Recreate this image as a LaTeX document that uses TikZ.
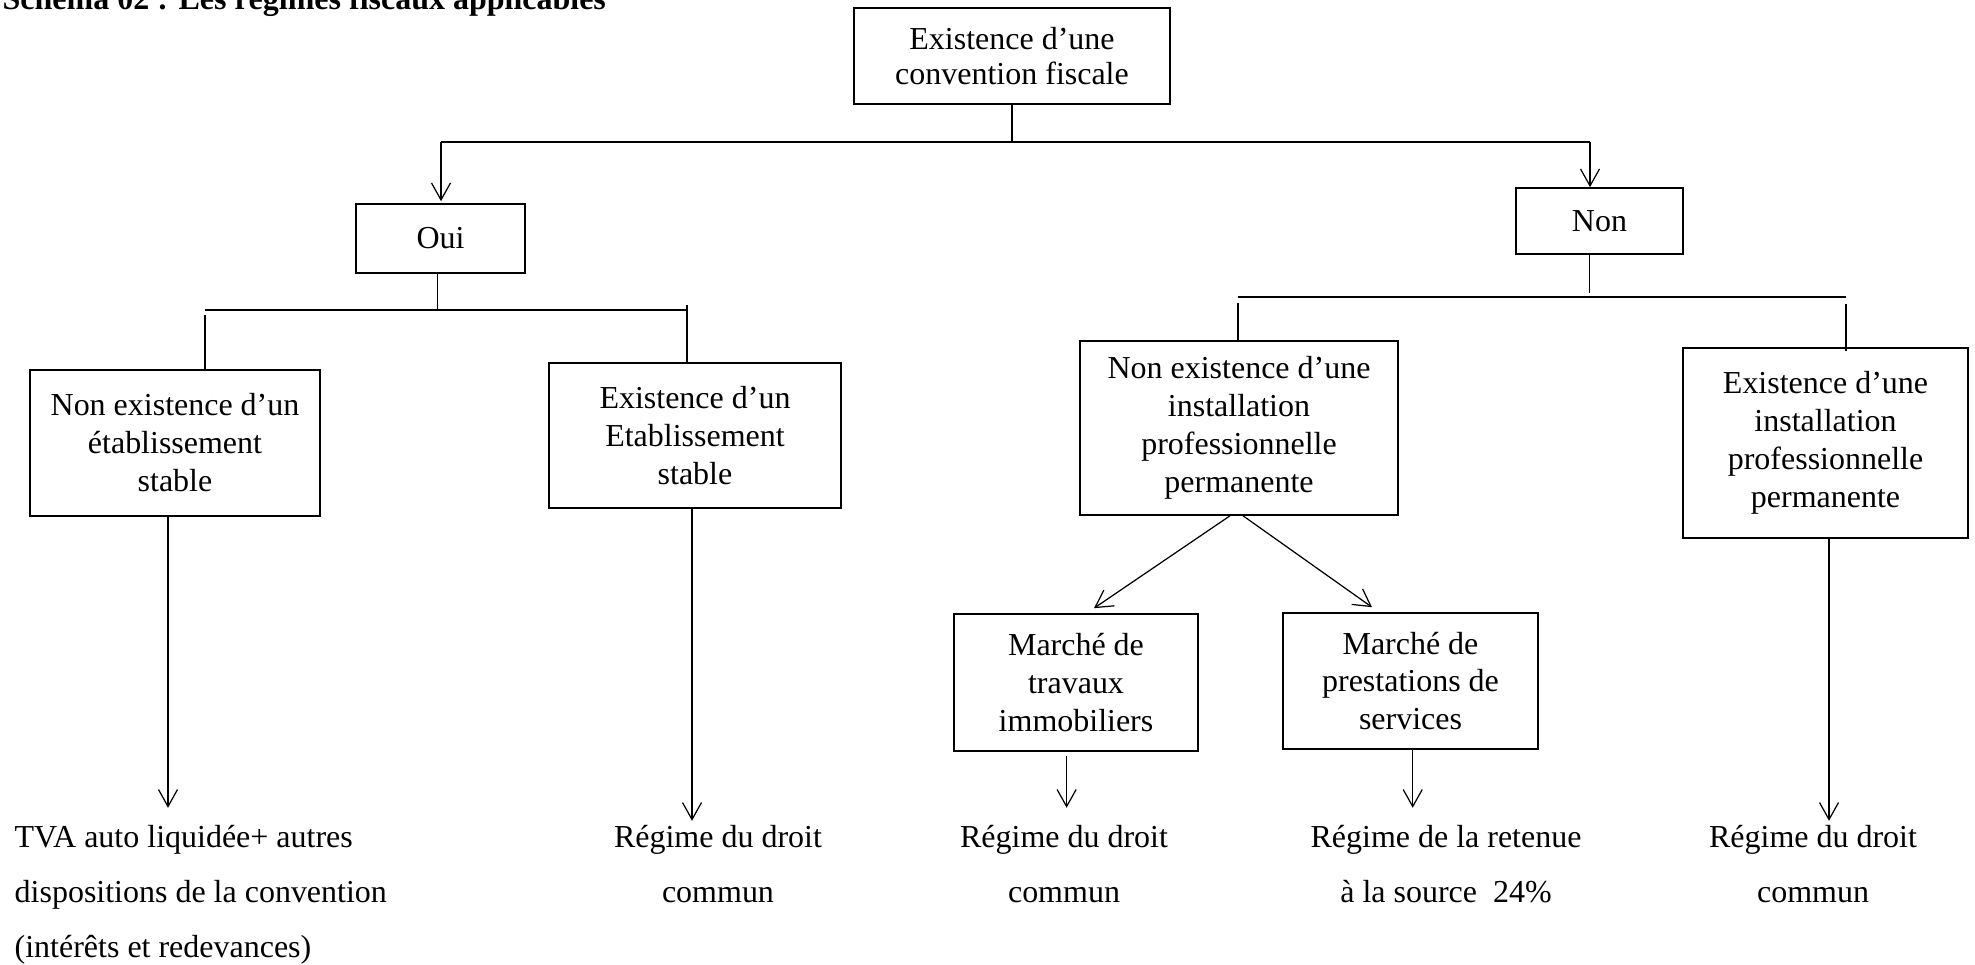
\documentclass[tikz,border=0pt]{standalone}
\usepackage{fontspec}
\setmainfont{Liberation Serif}
\usetikzlibrary{arrows.meta,positioning,calc}

\begin{document}
\begin{tikzpicture}[
    box/.style={draw, line width=0.45pt, align=center, inner sep=0pt, font=\fontsize{9.1}{10.8}\selectfont},
    res/.style={align=center, inner sep=0pt, font=\fontsize{9.1}{15.6}\selectfont},
    arr/.style={-{Straight Barb[length=1.7mm, width=1.9mm]}, line width=0.35pt},
    conn/.style={line width=0.35pt},
    bar/.style={line width=0.5pt}]
    \useasboundingbox (0,0) rectangle (19.75,9.64);

    % Title
    \node[anchor=base west, inner sep=0pt, font=\fontsize{9.1}{10.8}\selectfont\bfseries] (title) at (0.02,9.54) {Schéma 02 : Les régimes fiscaux applicables};

    % Boxes
    \node[box, minimum width=3.16cm, minimum height=0.96cm, font=\fontsize{9.1}{9.8}\selectfont] (conv) at (10.12,9.08) {Existence d’une\\convention fiscale};
    \node[box, minimum width=1.69cm, minimum height=0.69cm] (oui) at (4.405,7.255) {Oui};
    \node[box, minimum width=1.67cm, minimum height=0.66cm] (non) at (15.995,7.43) {Non};
    \node[box, minimum width=2.90cm, minimum height=1.46cm] (nes) at (1.75,5.21) {Non existence d’un\\établissement\\stable};
    \node[box, minimum width=2.92cm, minimum height=1.45cm] (es) at (6.95,5.285) {Existence d’un\\Etablissement\\stable};
    \node[box, minimum width=3.18cm, minimum height=1.74cm] (nei) at (12.39,5.36) {Non existence d’une\\installation\\professionnelle\\permanente};
    \node[box, minimum width=2.85cm, minimum height=1.90cm] (ei) at (18.255,5.21) {Existence d’une\\installation\\professionnelle\\permanente};
    \node[box, minimum width=2.44cm, minimum height=1.37cm] (trav) at (10.76,2.815) {Marché de\\travaux\\immobiliers};
    \node[box, minimum width=2.55cm, minimum height=1.36cm] (prest) at (14.105,2.83) {Marché de\\prestations de\\services};

    % Results (base = last line)
    \node[res, align=left, anchor=base west] (res1) at (0.14,0.07) {TVA auto liquidée+ autres\\dispositions de la convention\\(intérêts et redevances)};
    \node[res, anchor=base] (res2) at (7.18,0.62) {Régime du droit\\commun};
    \node[res, anchor=base] (res3) at (10.64,0.62) {Régime du droit\\commun};
    \node[res, anchor=base] (res4) at (14.46,0.62) {Régime de la retenue\\à la source\ \ 24\%};
    \node[res, anchor=base] (res5) at (18.13,0.62) {Régime du droit\\commun};

    % Convention -> Oui / Non
    \coordinate (bar1l) at (4.41,8.22);
    \coordinate (bar1r) at (15.90,8.22);
    \draw[conn] (conv.south) -- (conv.south |- bar1l);
    \draw[bar] (bar1l) -- (bar1r);
    \draw[arr] (bar1l) -- ([yshift=0.02cm]bar1l |- oui.north);
    \draw[arr] (bar1r) -- (bar1r |- non.north);

    % Oui branch
    \coordinate (bar2l) at (2.05,6.54);
    \coordinate (bar2r) at (6.87,6.54);
    \draw[conn] ([xshift=-0.03cm]oui.south) -- ([xshift=-0.03cm]oui.south |- bar2l);
    \draw[bar] (bar2l) -- (bar2r);
    \draw[conn] ([yshift=-0.05cm]bar2l) -- (bar2l |- nes.north);
    \draw[conn] ([yshift=0.05cm]bar2r) -- (bar2r |- es.north);

    % Non branch
    \coordinate (bar3l) at (12.38,6.67);
    \coordinate (bar3r) at (18.46,6.67);
    \draw[conn] ([xshift=-0.1cm]non.south) -- ++(0,-0.38);
    \draw[bar] (bar3l) -- (bar3r);
    \draw[conn] ([yshift=-0.06cm]bar3l) -- (bar3l |- nei.north);
    \draw[conn] ([yshift=-0.07cm]bar3r) -- ([yshift=-0.04cm]bar3r |- ei.north);
    \draw[arr] ([xshift=-0.09cm]nei.south) -- ([shift={(0.18,0.05)}]trav.north);
    \draw[arr] ([xshift=0.04cm]nei.south) -- ([shift={(-0.385,0.05)}]prest.north);

    % Down to the results
    \draw[arr] ([xshift=-0.07cm]nes.south) -- ++(0,-2.91);
    \draw[arr] ([xshift=-0.03cm]es.south) -- ++(0,-3.12);
    \draw[arr] ([shift={(-0.094,-0.04)}]trav.south) -- ++(0,-0.52);
    \draw[arr] ([xshift=0.022cm]prest.south) -- ++(0,-0.58);
    \draw[arr] ([xshift=0.035cm]ei.south) -- ++(0,-2.82);
\end{tikzpicture}
\end{document}
